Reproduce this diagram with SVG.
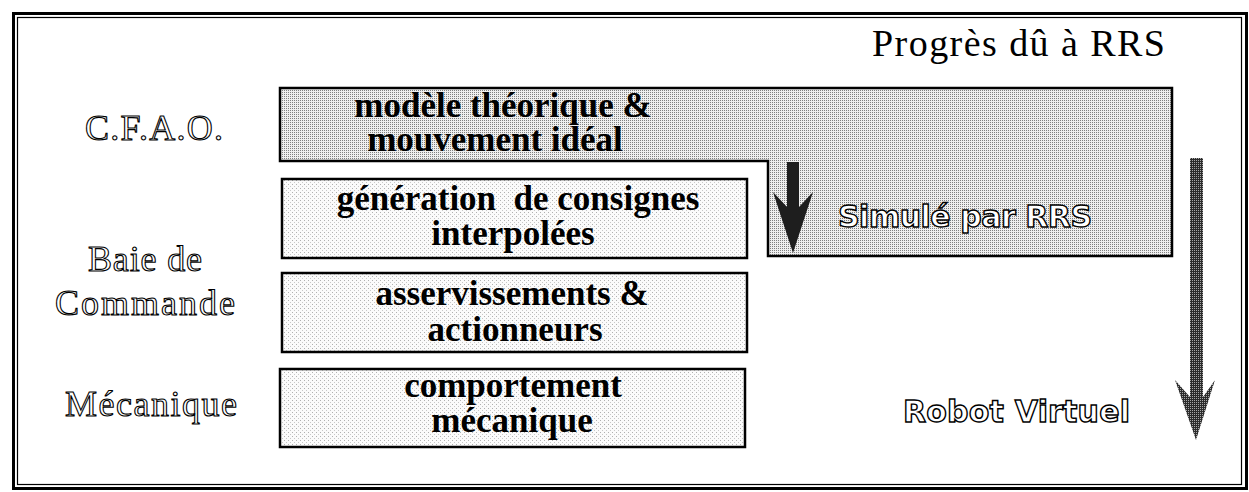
<svg xmlns="http://www.w3.org/2000/svg" width="1249" height="492" viewBox="0 0 1249 492">
  <style>
    .frame { fill: none; stroke: #000; }
    .box { stroke: #000; stroke-width: 2.5; }
    .lbl { font-family: "Liberation Serif", "Times New Roman", serif; font-weight: bold; font-size: 35px; text-anchor: middle; fill: #000; }
    .lvl { font-family: "Liberation Serif", "Times New Roman", serif; font-size: 36px; fill: #fff; stroke: #000; stroke-width: 1.1; }
    .sim { font-family: "DejaVu Sans", "Liberation Sans", sans-serif; font-weight: bold; font-size: 30px; fill: #fff; stroke: #000; stroke-width: 1.4; }
    .title { font-family: "Liberation Serif", "Times New Roman", serif; font-size: 38px; fill: #000; }
  </style>
  <defs>
    <pattern id="dense" width="2" height="2" patternUnits="userSpaceOnUse">
      <rect width="2" height="2" fill="#efefef"/>
      <rect width="1" height="1" fill="#808080"/>
    </pattern>
    <pattern id="light" width="4" height="4" patternUnits="userSpaceOnUse">
      <rect width="4" height="4" fill="#fbfbfb"/>
      <rect width="1" height="1" fill="#b0b0b0"/>
      <rect x="2" y="2" width="1" height="1" fill="#c8c8c8"/>
    </pattern>
    <pattern id="darkdots" width="2" height="2" patternUnits="userSpaceOnUse">
      <rect width="2" height="2" fill="#2c2c2c"/>
      <rect width="1" height="1" fill="#a8a8a8"/>
    </pattern>
  </defs>

  <g id="frame">
    <rect class="frame" x="13.5" y="13.5" width="1233" height="475" stroke-width="3"/>
    <rect class="frame" x="17.5" y="17.5" width="1224" height="467" stroke-width="1.2"/>
  </g>

  <g id="level-labels">
    <text class="lvl" x="85" y="140" textLength="138" lengthAdjust="spacing">C.F.A.O.</text>
    <text class="lvl" x="88" y="271" textLength="114" lengthAdjust="spacing">Baie de</text>
    <text class="lvl" x="55" y="315" textLength="180" lengthAdjust="spacing">Commande</text>
    <text class="lvl" x="65" y="416" textLength="172" lengthAdjust="spacing">Mécanique</text>
  </g>

  <g id="title">
    <text class="title" x="872" y="56" textLength="293" lengthAdjust="spacing">Progrès dû à RRS</text>
  </g>

  <g id="node-modele">
    <path class="box" stroke-width="3" fill="url(#dense)" d="M280,88 H1172 V256 H768 V161 H280 Z"/>
    <text class="lbl" x="503" y="117">modèle théorique &amp;</text>
    <text class="lbl" x="495" y="151">mouvement idéal</text>
    <text class="sim" x="838" y="227" textLength="254" lengthAdjust="spacing">Simulé par RRS</text>
  </g>

  <g id="node-generation">
    <rect class="box" x="282" y="179" width="465" height="79" fill="url(#light)"/>
    <text class="lbl" x="518" y="210" xml:space="preserve">génération  de consignes</text>
    <text class="lbl" x="513" y="245">interpolées</text>
  </g>

  <g id="node-asservissements">
    <rect class="box" x="282" y="273" width="465" height="79" fill="url(#light)"/>
    <text class="lbl" x="512" y="305">asservissements &amp;</text>
    <text class="lbl" x="515" y="341">actionneurs</text>
  </g>

  <g id="node-comportement">
    <rect class="box" x="280" y="369" width="465" height="78" fill="url(#light)"/>
    <text class="lbl" x="513" y="397">comportement</text>
    <text class="lbl" x="512" y="432">mécanique</text>
  </g>

  <g id="robot-virtuel">
    <text class="sim" x="903" y="422" textLength="227" lengthAdjust="spacing">Robot Virtuel</text>
  </g>

  <g id="connectors">
    <polygon fill="#1e1e1e" points="787,162 799,162 799,207 813,192 793,253 773,192 787,207"/>
    <polygon fill="url(#darkdots)" points="1190,158 1203,158 1203,397 1215,380 1196,440 1175,380 1190,397"/>
  </g>
</svg>
